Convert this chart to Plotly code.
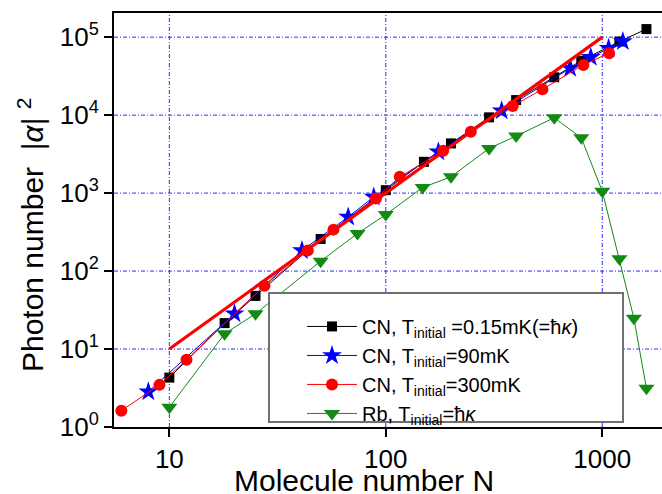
import numpy as np
import plotly.graph_objects as go

# CN, T_initial = 0.15 mK
n_black = [10, 18, 25, 50, 100, 150, 200, 300, 400, 600, 800, 1200, 1600]
p_black = [4.3, 21.5, 48, 258, 1090, 2520, 4340, 9370, 15600, 30600, 50000, 88000, 127000]

# CN, T_initial = 90 mK
n_blue = [8, 20, 41, 67, 88, 175, 343, 711, 885, 1070, 1245]
p_blue = [2.84, 28.3, 184, 494, 894, 3390, 11400, 40000, 55300, 72200, 87800]

# CN, T_initial = 300 mK
n_red = [6, 9, 12, 27.5, 43.6, 57.3, 90, 116, 184, 247, 386, 529, 818, 1076]
p_red = [1.62, 3.47, 7.27, 64.9, 184, 340, 853, 1616, 3490, 6120, 13100, 21460, 44100, 62300]

# Rb, T_initial = hbar kappa
n_green = [10, 18, 25, 50, 74, 100, 148, 200, 300, 400, 600, 800, 1000, 1200, 1400, 1600]
p_green = [1.79, 15.7, 28.3, 134, 303, 531, 1180, 1616, 3744, 5390, 9260, 5120, 1058, 144, 24.9, 3.13]

# N^2 guide line
n_fit = [10, 1000]
p_fit = [10, 100000]

y_major = [1, 10, 100, 1000, 10000, 100000]
y_major_text = ["10<sup>0</sup>", "10<sup>1</sup>", "10<sup>2</sup>", "10<sup>3</sup>",
                "10<sup>4</sup>", "10<sup>5</sup>"]
x_major = [10, 100, 1000]
x_major_text = ["10", "100", "1000"]

FONT = "Arial, Liberation Sans, sans-serif"
GRID = "#2a2aff"
DASH = "4px,2px,1px,2px"

X_RANGE = [np.log10(5.55), 3.276]
Y_RANGE = [0, 5.31]

fig = go.Figure()
fig.add_trace(go.Scatter(x=n_black, y=p_black, mode="lines+markers",
                         name="CN, T<sub>initial</sub> =0.15mK(=ħ<i>κ</i>)",
                         line=dict(color="black", width=1),
                         marker=dict(symbol="square", size=10, color="black")))
fig.add_trace(go.Scatter(x=n_blue, y=p_blue, mode="lines+markers",
                         name="CN, T<sub>initial</sub>=90mK",
                         line=dict(color="#0000ff", width=1),
                         marker=dict(symbol="star", size=15, color="#0000ff")))
fig.add_trace(go.Scatter(x=n_red, y=p_red, mode="lines+markers",
                         name="CN, T<sub>initial</sub>=300mK",
                         line=dict(color="#ff0000", width=1),
                         marker=dict(symbol="circle", size=12, color="#ff0000")))
fig.add_trace(go.Scatter(x=n_green, y=p_green, mode="lines+markers",
                         name="Rb, T<sub>initial</sub>=ħ<i>κ</i>",
                         line=dict(color="#138a13", width=1),
                         marker=dict(symbol="triangle-down", size=14, color="#138a13")))
fig.add_trace(go.Scatter(x=n_fit, y=p_fit, mode="lines", showlegend=False,
                         line=dict(color="#ff0000", width=3.2)))

x_minor = [m * 10 ** d for d in range(0, 4) for m in range(2, 10)]
y_minor = [m * 10 ** d for d in range(0, 6) for m in range(2, 10)]

fig.update_layout(
    xaxis=dict(type="log", range=X_RANGE, tickvals=x_major, ticktext=x_major_text,
               ticks="outside", ticklen=8, tickwidth=1.5, tickcolor="black",
               showline=True, linecolor="black", linewidth=2, mirror=True,
               showgrid=False,
               tickfont=dict(size=26, color="black", family=FONT),
               automargin=False, zeroline=False),
    yaxis=dict(type="log", range=Y_RANGE, tickvals=y_major, ticktext=y_major_text,
               ticks="outside", ticklen=8, tickwidth=1.5, tickcolor="black",
               showline=True, linecolor="black", linewidth=2, mirror=True,
               showgrid=False,
               tickfont=dict(size=26, color="black", family=FONT),
               automargin=False, zeroline=False),
    # minor ticks drawn by overlay axes
    xaxis2=dict(type="log", range=X_RANGE, overlaying="x", anchor="y", side="bottom",
                tickvals=x_minor, showticklabels=False, ticks="outside", ticklen=5,
                tickwidth=1, tickcolor="black", showgrid=False, showline=False,
                zeroline=False, automargin=False, fixedrange=True),
    yaxis2=dict(type="log", range=Y_RANGE, overlaying="y", anchor="x", side="left",
                tickvals=y_minor, showticklabels=False, ticks="outside", ticklen=4,
                tickwidth=1, tickcolor="black", showgrid=False, showline=False,
                zeroline=False, automargin=False, fixedrange=True),
)

# blue dash-dot grid at the major ticks
for xv in x_major:
    fig.add_shape(type="line", xref="x", yref="paper", x0=xv, x1=xv, y0=0, y1=1,
                  line=dict(color=GRID, width=1, dash=DASH), layer="below")
for yv in y_major[1:]:
    fig.add_shape(type="line", xref="paper", yref="y", x0=0, x1=1, y0=yv, y1=yv,
                  line=dict(color=GRID, width=1, dash=DASH), layer="below")

fig.add_annotation(text="Molecule number N", xref="paper", yref="paper",
                   x=0.456, y=-0.130, xanchor="center", yanchor="middle", showarrow=False,
                   font=dict(size=30, color="black", family=FONT))
fig.add_annotation(text="Photon number  |<i>α</i>| <sup>2</sup>", xref="paper", yref="paper",
                   x=-0.1515, y=0.466, xanchor="center", yanchor="middle", showarrow=False,
                   textangle=-90, font=dict(size=30, color="black", family=FONT))

# legend frame
fig.add_shape(type="rect", xref="paper", yref="paper",
              x0=(269 - 114) / 548, x1=(623 - 114) / 548,
              y0=(427 - 422) / 414, y1=(427 - 293) / 414,
              line=dict(color="#707070", width=2), fillcolor="white", layer="above")

fig.update_layout(
    width=662, height=494,
    margin=dict(l=114, r=0, t=13, b=67),
    paper_bgcolor="white", plot_bgcolor="white",
    font=dict(family=FONT, color="black"),
    legend=dict(x=(302 - 114) / 548, y=0.29, xanchor="left", yanchor="top",
                bgcolor="rgba(0,0,0,0)", borderwidth=0,
                font=dict(size=20, color="black", family=FONT),
                itemwidth=50, tracegroupgap=0),
)

fig.write_html("out.html", config={"displayModeBar": False},
               post_script="document.body.style.margin='0';document.body.style.padding='0';")
